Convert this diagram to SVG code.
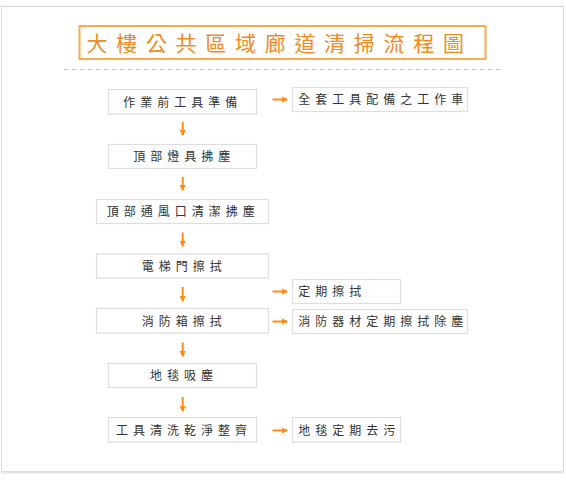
<svg xmlns="http://www.w3.org/2000/svg" width="566" height="481" viewBox="0 0 566 481">
<style>
.box{fill:#fff;stroke:#dedede;stroke-width:1.2}
.t{font-family:"Noto Sans CJK TC","Noto Sans CJK SC",sans-serif;font-size:12px;letter-spacing:5px;fill:#333}
.title{font-family:"Noto Sans CJK TC","Noto Sans CJK SC",sans-serif;font-size:21px;letter-spacing:8.7px;fill:#f28a1e}
.a{stroke:#ff8a14;stroke-width:2;fill:none}
</style>
<defs>
<marker id="ah" viewBox="0 0 6 6" refX="5" refY="3" markerWidth="3.2" markerHeight="3.2" orient="auto" markerUnits="strokeWidth">
<path d="M0,0 L6,3 L0,6 Z" fill="#ff8a14"/>
</marker>
</defs>
<rect x="0" y="0" width="566" height="481" fill="#fff"/>
<rect x="1.5" y="6.5" width="562" height="465" fill="#fff" stroke="#d9d9d9" stroke-width="1"/>
<line x1="1" y1="472.5" x2="564" y2="472.5" stroke="#e6e6e6" stroke-width="2"/>
<g id="title">
<rect x="79.5" y="26" width="406" height="33" fill="#fff" stroke="#f9a94f" stroke-width="2"/>
<text class="title" x="86.5" y="51">大樓公共區域廊道清掃流程圖</text>
</g>
<line x1="64" y1="69.5" x2="502" y2="69.5" stroke="#cccccc" stroke-width="1" stroke-dasharray="5 3"/>
<g id="n1"><rect class="box" x="108.5" y="89.5" width="148" height="24.5"/><text class="t" x="123.3" y="106.5">作業前工具準備</text></g>
<g id="n2"><rect class="box" x="108.5" y="144.5" width="148" height="24"/><text class="t" x="133.3" y="161">頂部燈具拂塵</text></g>
<g id="n3"><rect class="box" x="96.5" y="199.5" width="172" height="24"/><text class="t" x="106.7" y="216">頂部通風口清潔拂塵</text></g>
<g id="n4"><rect class="box" x="96.5" y="254" width="172" height="24"/><text class="t" x="141.7" y="270.5">電梯門擦拭</text></g>
<g id="n5"><rect class="box" x="96.5" y="308.5" width="172" height="24.5"/><text class="t" x="141.7" y="325.5">消防箱擦拭</text></g>
<g id="n6"><rect class="box" x="108.5" y="363.5" width="148" height="24"/><text class="t" x="150" y="380">地毯吸塵</text></g>
<g id="n7"><rect class="box" x="108.5" y="417.5" width="148" height="24.5"/><text class="t" x="116" y="434.5">工具清洗乾淨整齊</text></g>
<g id="r1"><rect class="box" x="292.5" y="87.5" width="175" height="24"/><text class="t" x="298.3" y="104">全套工具配備之工作車</text></g>
<g id="r2"><rect class="box" x="292.5" y="279.5" width="108" height="24"/><text class="t" x="298.3" y="296">定期擦拭</text></g>
<g id="r3"><rect class="box" x="292.5" y="309.5" width="175" height="24"/><text class="t" x="298.3" y="326">消防器材定期擦拭除塵</text></g>
<g id="r4"><rect class="box" x="292.5" y="417.5" width="108" height="24.5"/><text class="t" x="298.3" y="434.5">地毯定期去污</text></g>
<g id="connectors">
<line class="a" x1="182.7" y1="122" x2="182.7" y2="135" marker-end="url(#ah)"/>
<line class="a" x1="182.7" y1="177" x2="182.7" y2="190" marker-end="url(#ah)"/>
<line class="a" x1="182.7" y1="232.5" x2="182.7" y2="246" marker-end="url(#ah)"/>
<line class="a" x1="182.7" y1="287" x2="182.7" y2="301" marker-end="url(#ah)"/>
<line class="a" x1="182.7" y1="342.5" x2="182.7" y2="356" marker-end="url(#ah)"/>
<line class="a" x1="182.7" y1="397" x2="182.7" y2="411" marker-end="url(#ah)"/>
<line class="a" x1="272.5" y1="99.5" x2="287" y2="99.5" marker-end="url(#ah)"/>
<line class="a" x1="272.5" y1="291.5" x2="287" y2="291.5" marker-end="url(#ah)"/>
<line class="a" x1="272.5" y1="321.5" x2="287" y2="321.5" marker-end="url(#ah)"/>
<line class="a" x1="272.5" y1="430.5" x2="287" y2="430.5" marker-end="url(#ah)"/>
</g>
</svg>
